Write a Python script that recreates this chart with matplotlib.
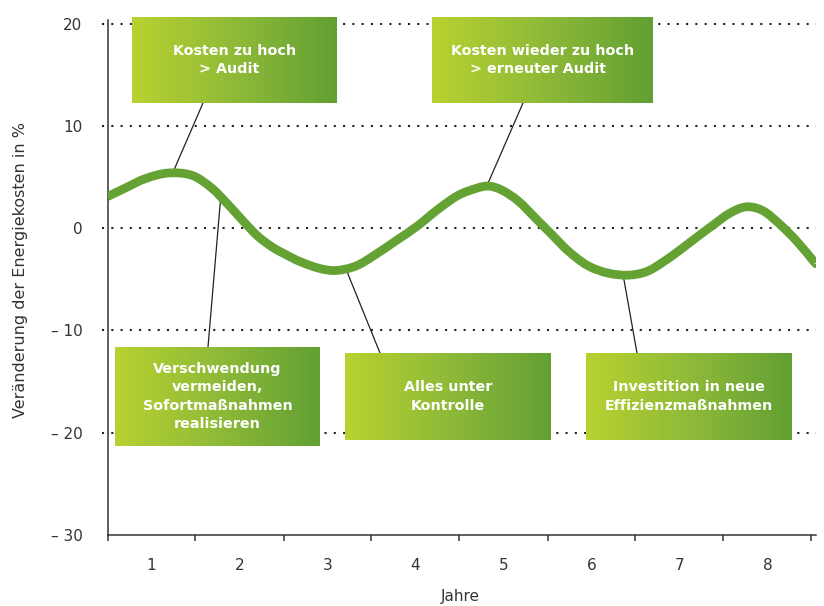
import numpy as np
import matplotlib
matplotlib.use("Agg")
import matplotlib.pyplot as plt
from matplotlib.colors import LinearSegmentedColormap
from matplotlib.path import Path
from matplotlib.patches import PathPatch

# ---- data ----
years = [0.50, 0.70, 0.93, 1.19, 1.46, 1.68, 1.87, 2.06, 2.21, 2.37, 2.52,
         2.69, 2.91, 3.10, 3.33, 3.56, 3.79, 4.01, 4.24, 4.45, 4.60, 4.81,
         4.98, 5.17, 5.36, 5.55, 5.74, 5.96, 6.19, 6.42, 6.63, 6.82, 7.01,
         7.20, 7.38, 7.57, 7.76, 7.95, 8.14, 8.33, 8.52, 8.55]
change = [3.10, 3.93, 4.86, 5.41, 5.18, 3.97, 2.33, 0.53, -0.79, -1.83, -2.55,
          -3.27, -3.93, -4.13, -3.67, -2.49, -1.15, 0.15, 1.75, 3.05, 3.65, 4.13,
          3.74, 2.65, 1.02, -0.62, -2.26, -3.67, -4.39, -4.59, -4.23, -3.27, -2.10,
          -0.85, 0.30, 1.47, 2.10, 1.71, 0.39, -1.24, -3.18, -3.45]

year_labels = ["1", "2", "3", "4", "5", "6", "7", "8"]
y_values = [20, 10, 0, -10, -20, -30]
y_labels = ["20", "10", "0", "\u2013 10", "\u2013 20", "\u2013 30"]
grid_values = [20, 10, 0, -10, -20]

box_texts = ["Kosten zu hoch\n> Audit  ",
             "Kosten wieder zu hoch\n> erneuter Audit  ",
             "Verschwendung\nvermeiden,\nSofortma\u00dfnahmen\nrealisieren",
             "Alles unter\nKontrolle",
             "Investition in neue\nEffizienzma\u00dfnahmen"]
# points on the curve the callouts point to (year, change)
anchor_years = [1.24, 4.81, 1.79, 3.21, 6.36]
anchor_values = [5.4, 4.13, 3.4, -4.0, -4.6]

# ---- layout ----
W, H = 824, 606
fig = plt.figure(figsize=(W / 100, H / 100), dpi=100)
ax_left, ax_right = 107.5, 815.9
ax_top, ax_bot = 19.9, 534.7
ax = fig.add_axes([ax_left / W, 1 - ax_bot / H, (ax_right - ax_left) / W,
                   (ax_bot - ax_top) / H])

text_col = "#333333"
green = "#65a234"

ax.set_xlim(0.5, 8.55)
ax.set_ylim(-30, 20.4)

# dotted grid lines (start a little left of the axis)
x0_grid = 0.5 - 6 / 88
ax.hlines(grid_values, x0_grid, 8.55, colors="#222222", linewidth=1.5,
          linestyles=[(0, (1.0, 3.45))], clip_on=False, zorder=1)

# smooth curve through the read points (Catmull-Rom as cubic Bezier path)
P = np.column_stack([years, change])
Pext = np.vstack([P[0], P, P[-1]])
verts = [tuple(P[0])]
codes = [Path.MOVETO]
for i in range(len(P) - 1):
    p0, p1, p2, p3 = Pext[i], Pext[i + 1], Pext[i + 2], Pext[i + 3]
    c1 = p1 + (p2 - p0) / 6.0
    c2 = p2 - (p3 - p1) / 6.0
    verts += [tuple(c1), tuple(c2), tuple(p2)]
    codes += [Path.CURVE4] * 3
curve = PathPatch(Path(verts, codes), facecolor="none", edgecolor=green,
                  linewidth=6.3, capstyle="butt", joinstyle="round", zorder=3)
ax.add_patch(curve)

for sp in ["top", "right"]:
    ax.spines[sp].set_visible(False)
for sp in ["left", "bottom"]:
    ax.spines[sp].set_color(text_col)
    ax.spines[sp].set_linewidth(1.1)

# x ticks: boundaries as major ticks, labels at year centres
ax.set_xticks(np.arange(0.5, 9.0, 1.0))
ax.set_xticklabels([])
ax.set_xticks(np.arange(1, 9), minor=True)
ax.set_xticklabels(year_labels, minor=True)
ax.tick_params(axis="x", which="major", direction="out", length=4, width=1.1,
               color=text_col)
ax.tick_params(axis="x", which="minor", length=0, pad=17, labelsize=11,
               labelcolor=text_col)

ax.set_yticks(y_values)
ax.set_yticklabels(y_labels)
ax.tick_params(axis="y", which="major", length=0, pad=18, labelsize=11,
               labelcolor=text_col)
ax.set_yticks([-30], minor=True)
ax.tick_params(axis="y", which="minor", length=4, width=1.1, color=text_col)

fig.text(21 / W, 1 - 270 / H, "Ver\u00e4nderung der Energiekosten in %",
         rotation=90, ha="center", va="center", fontsize=11.5, color=text_col)
fig.text(460 / W, 1 - 597 / H, "Jahre", ha="center", va="center",
         fontsize=11, color=text_col)

# callout boxes (pixel rects: left, top, right, bottom)
box_rects = [(132, 17, 337, 103), (432, 17, 653, 103), (115, 347, 320, 446),
             (345, 353, 551, 440), (586, 353, 792, 440)]
line_starts = [(203, 103), (523, 103), (208, 347), (380, 353), (637, 353)]

for (ax_yr, ax_val), (lx, ly) in zip(zip(anchor_years, anchor_values), line_starts):
    ax.annotate("", xy=(ax_yr, ax_val), xycoords="data",
                xytext=(lx, H - ly), textcoords="figure pixels",
                arrowprops=dict(arrowstyle="-", color="#222222", lw=0.9,
                                shrinkA=0, shrinkB=0),
                zorder=2)

cmap = LinearSegmentedColormap.from_list("g", ["#b8d230", "#8fba38", "#62a033"])
grad = np.linspace(0, 1, 256).reshape(1, -1)
for txt, (l, t, r, b) in zip(box_texts, box_rects):
    bax = fig.add_axes([l / W, 1 - b / H, (r - l) / W, (b - t) / H])
    bax.imshow(grad, aspect="auto", cmap=cmap, extent=(0, 1, 0, 1))
    bax.set_xlim(0, 1)
    bax.set_ylim(0, 1)
    bax.axis("off")
    bax.text(0.5, 0.5, txt, ha="center", va="center", multialignment="center",
             color="white", fontsize=10.3, fontweight="bold", linespacing=1.4)

fig.savefig("out.png", dpi=100)
